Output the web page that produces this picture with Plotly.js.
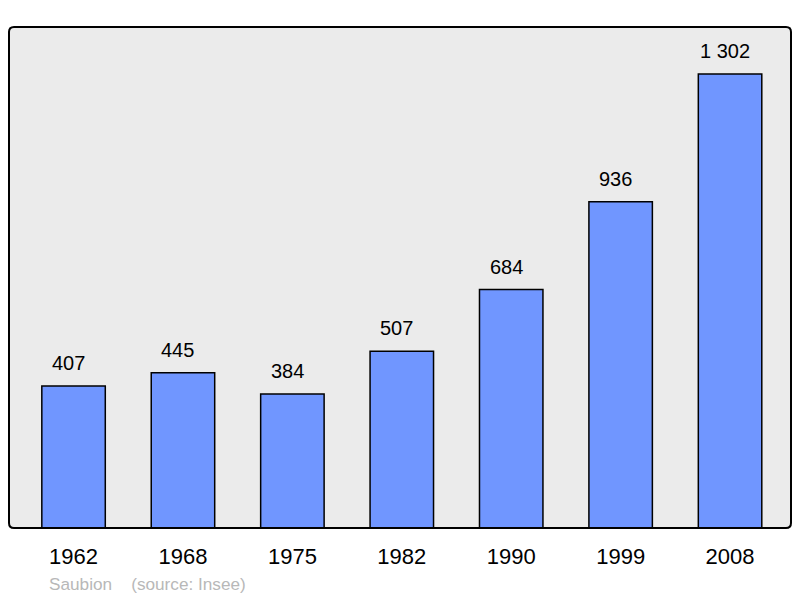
<!DOCTYPE html>
<html><head><meta charset="utf-8">
<script src="https://cdn.plot.ly/plotly-3.0.1.min.js"></script>
<style>body{margin:0;background:#fff}#c{width:800px;height:598px}</style>
</head><body><div id="c"></div>
<script>
const years = ["1962","1968","1975","1982","1990","1999","2008"];
const population = [407,445,384,507,684,936,1302];
const valueLabels = ["407","445","384","507","684","936","1 302"];

const trace = {
  type:'bar', x:years, y:population, width:0.58,
  marker:{color:'#7096ff', line:{color:'#000', width:1.5}},
  hoverinfo:'none'
};
const annotations = years.map((yr,i)=>({
  x:i, y:population[i], xref:'x', yref:'y', text:valueLabels[i],
  showarrow:false, yanchor:'bottom', yshift:10, xshift:-5,
  font:{family:'Liberation Sans, Arial, sans-serif', size:20, color:'#000'}
}));
annotations.push({
  xref:'paper', yref:'paper', x:0.049, y:-0.112, xanchor:'left', yanchor:'middle',
  text:'Saubion&nbsp;&nbsp;&nbsp;&nbsp;(source: Insee)', showarrow:false,
  font:{family:'Liberation Sans, Arial, sans-serif', size:17.2, color:'#b8b8b8'}
});
const rx = 5/782, ry = 5/501;
const roundPath = `M ${rx},0 L ${1-rx},0 Q 1,0 1,${ry} L 1,${1-ry} Q 1,1 ${1-rx},1 L ${rx},1 Q 0,1 0,${1-ry} L 0,${ry} Q 0,0 ${rx},0 Z`;
const layout = {
  width:800, height:598,
  margin:{l:9, r:9, t:27, b:70, pad:0},
  paper_bgcolor:'#fff', plot_bgcolor:'#ebebeb',
  showlegend:false,
  xaxis:{type:'category', range:[-0.59,6.557], showgrid:false, zeroline:false,
    showline:false, ticks:'', ticklen:0, ticklabelstandoff:13,
    tickfont:{family:'Liberation Sans, Arial, sans-serif', size:22, color:'#000'}},
  yaxis:{range:[0,1437], showgrid:false, zeroline:false, showticklabels:false, ticks:''},
  shapes:[{type:'path', xref:'paper', yref:'paper', path:roundPath,
    line:{color:'#000', width:2}, layer:'above'}],
  annotations:annotations
};
Plotly.newPlot('c',[trace],layout,{staticPlot:true});
</script></body></html>
